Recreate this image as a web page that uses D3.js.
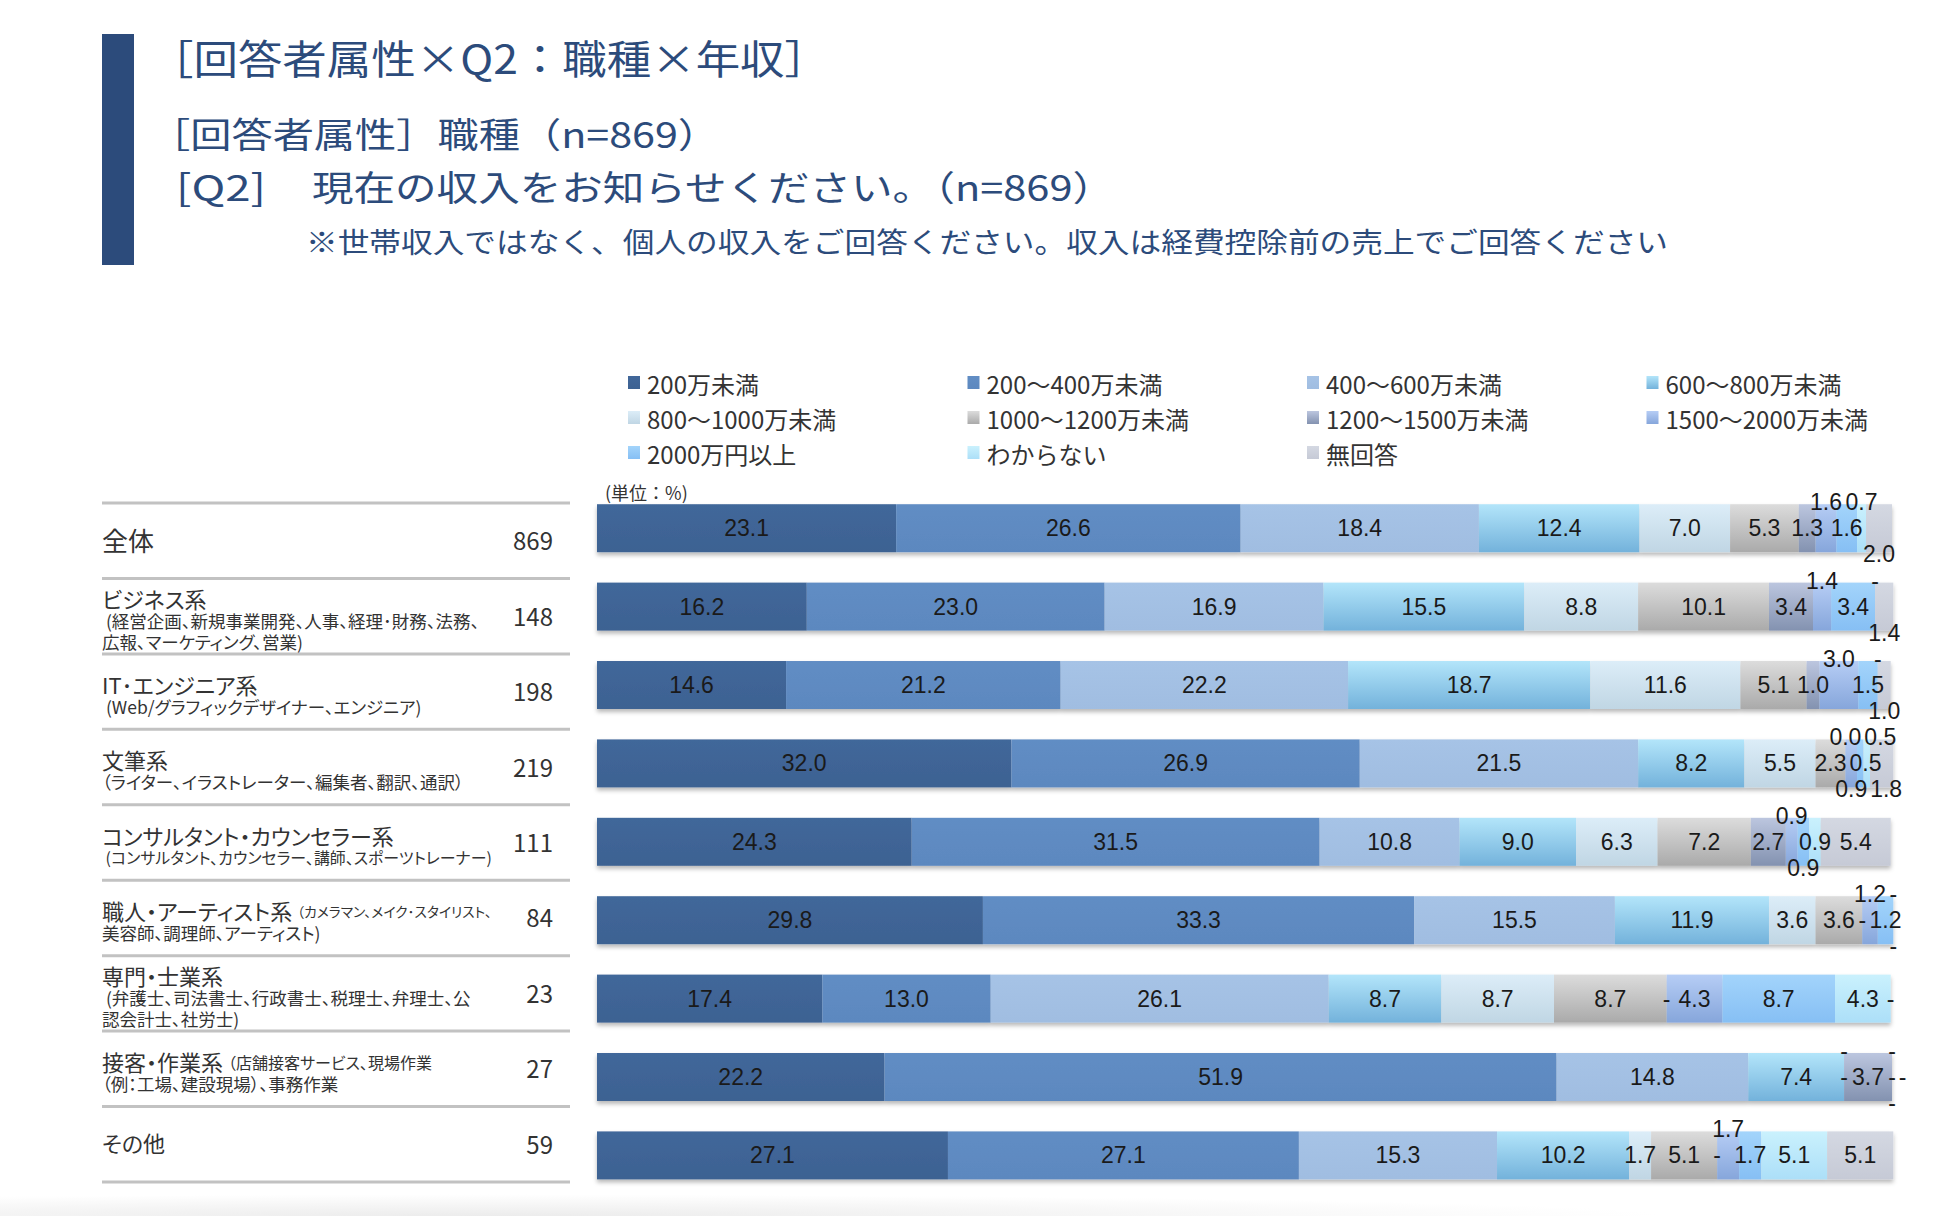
<!DOCTYPE html>
<html lang="ja">
<head>
<meta charset="utf-8">
<script src="https://cdn.jsdelivr.net/npm/d3@7"></script>
<style>
  html, body { margin: 0; padding: 0; background: #fff; }
  svg { display: block; font-family: "Noto Sans CJK JP", "Noto Sans", sans-serif; }
  .palt { font-feature-settings: "palt"; }
</style>
</head>
<body>
<svg id="chart" width="1958" height="1216"></svg>
<script>
// ---- data (percent, null = "-") ----
const seriesNames = [
  "200万未満", "200～400万未満", "400～600万未満", "600～800万未満",
  "800～1000万未満", "1000～1200万未満", "1200～1500万未満", "1500～2000万未満",
  "2000万円以上", "わからない", "無回答"
];
const categories = [
  "全体", "ビジネス系", "IT･エンジニア系", "文筆系", "コンサルタント・カウンセラー系",
  "職人・アーティスト系", "専門・士業系", "接客・作業系", "その他"
];
const inlineNotes = ["", "", "", "", "", "（カメラマン、メイク･スタイリスト、", "", "（店舗接客サービス、現場作業", ""];
const notes = [
  [],
  ["\u00a0(経営企画、新規事業開発、人事、経理･財務、法務、", "広報、マーケティング、営業)"],
  ["\u00a0(Web/グラフィックデザイナー、エンジニア)"],
  ["（ライター、イラストレーター、編集者、翻訳、通訳）"],
  ["\u00a0(コンサルタント、カウンセラー、講師、スポーツトレーナー)"],
  ["美容師、調理師、アーティスト)"],
  ["\u00a0(弁護士、司法書士、行政書士、税理士、弁理士、公", "認会計士、社労士)"],
  ["（例：工場、建設現場）、事務作業"],
  []
];
const sampleSizes = [869, 148, 198, 219, 111, 84, 23, 27, 59];

const vAll        = [23.1, 26.6, 18.4, 12.4, 7.0, 5.3, 1.3, 1.6, 1.6, 0.7, 2.0];
const vBusiness   = [16.2, 23.0, 16.9, 15.5, 8.8, 10.1, 3.4, 1.4, 3.4, null, 1.4];
const vIT         = [14.6, 21.2, 22.2, 18.7, 11.6, 5.1, 1.0, 3.0, 1.5, null, 1.0];
const vWriting    = [32.0, 26.9, 21.5, 8.2, 5.5, 2.3, 0.0, 0.9, 0.5, 0.5, 1.8];
const vConsultant = [24.3, 31.5, 10.8, 9.0, 6.3, 7.2, 2.7, 0.9, 0.9, 0.9, 5.4];
const vArtisan    = [29.8, 33.3, 15.5, 11.9, 3.6, 3.6, null, 1.2, 1.2, null, null];
const vLicensed   = [17.4, 13.0, 26.1, 8.7, 8.7, 8.7, null, 4.3, 8.7, 4.3, null];
const vService    = [22.2, 51.9, 14.8, 7.4, null, null, 3.7, null, null, null, null];
const vOther      = [27.1, 27.1, 15.3, 10.2, 1.7, 5.1, null, 1.7, 1.7, 5.1, 5.1];
const shares = [vAll, vBusiness, vIT, vWriting, vConsultant, vArtisan, vLicensed, vService, vOther];

// ---- styling ----
const colorTop = ["#41679a", "#618dc4", "#a6c3e6", "#b3e5fa", "#dcedf8", "#dcdcdc", "#bcc6df", "#b6cdf5", "#a3d4fb", "#caf1fd", "#d4d8e2"];
const colorBot = ["#3d6292", "#5c88bf", "#a0bde1", "#73b2db", "#c0d6e4", "#aaaaaa", "#8392b0", "#86a6db", "#86bff4", "#acdff8", "#c6cad6"];
const navy = "#2c4b7b";

const svg = d3.select("#chart");
const defs = svg.append("defs");

seriesNames.forEach((s, i) => {
  const g = defs.append("linearGradient").attr("id", "grad" + i)
    .attr("x1", 0).attr("y1", 0).attr("x2", 0).attr("y2", 1);
  g.append("stop").attr("offset", "0%").attr("stop-color", colorTop[i]);
  g.append("stop").attr("offset", "100%").attr("stop-color", colorBot[i]);
});
defs.append("filter").attr("id", "shadow")
  .attr("x", "-2%").attr("y", "-20%").attr("width", "104%").attr("height", "150%")
  .append("feDropShadow").attr("dx", 0).attr("dy", 3).attr("stdDeviation", 2)
  .attr("flood-color", "#000").attr("flood-opacity", 0.28);
const fade = defs.append("radialGradient").attr("id", "fade")
  .attr("cx", 0.25).attr("cy", 1).attr("r", 0.6);
fade.append("stop").attr("offset", "0%").attr("stop-color", "#ececec");
fade.append("stop").attr("offset", "100%").attr("stop-color", "#ffffff");

svg.append("rect").attr("x", 0).attr("y", 1180).attr("width", 1958).attr("height", 36)
  .attr("fill", "url(#fade)");

// ---- header ----
svg.append("rect").attr("x", 102).attr("y", 34).attr("width", 32).attr("height", 231).attr("fill", navy);

function headText(str, x, y, size, len) {
  svg.append("text").attr("x", x).attr("y", y).attr("dominant-baseline", "central")
    .attr("font-size", size).attr("fill", navy)
    .attr("textLength", len).attr("lengthAdjust", "spacingAndGlyphs")
    .text(str);
}
headText("［回答者属性×Q2：職種×年収］", 149, 57, 40, 680);
headText("［回答者属性］職種（n=869）", 149, 132, 35, 570);
headText("[Q2]", 176, 185, 36, 90);
headText("現在の収入をお知らせください。（n=869）", 312, 185, 35, 802);
headText("※世帯収入ではなく、個人の収入をご回答ください。収入は経費控除前の売上でご回答ください", 306, 241, 28, 1362);

// ---- legend ----
const legend = svg.append("g").selectAll("g").data(seriesNames).join("g")
  .attr("transform", (d, i) => `translate(${628 + (i % 4) * 339.5},${383 + Math.floor(i / 4) * 35})`);
legend.append("rect").attr("x", 0).attr("y", -7).attr("width", 12).attr("height", 13)
  .attr("fill", (d, i) => `url(#grad${i})`);
legend.append("text").attr("x", 19).attr("y", 0).attr("dominant-baseline", "central")
  .attr("font-size", 24).attr("fill", "#333").text(d => d);

svg.append("text").attr("x", 605).attr("y", 492).attr("dominant-baseline", "central")
  .attr("font-size", 18).attr("fill", "#333").text("(単位：%)");

// ---- scales ----
const x = d3.scaleLinear().domain([0, 100]).range([597, 1892]);
const y = d3.scaleBand().domain(categories).range([489, 1194.6]).paddingInner(0.388).paddingOuter(0.194);
const yt = d3.scaleBand().domain(categories).range([503, 1182]);

// ---- left table ----
const table = svg.append("g");
table.selectAll("line").data(d3.range(categories.length + 1)).join("line")
  .attr("x1", 102).attr("x2", 570)
  .attr("y1", i => 503 + i * yt.step()).attr("y2", i => 503 + i * yt.step())
  .attr("stroke", "#c2c2c2").attr("stroke-width", 3);

const noteRight = 492;   // notes never run into the n column
function fitNote(tspan, x0, size) {
  const w = tspan.node().getComputedTextLength();
  if (x0 + w > noteRight) tspan.attr("font-size", size * (noteRight - x0) / w);
}

categories.forEach((name, i) => {
  const c = yt(name) + yt.step() / 2;
  const lines = notes[i];
  const first = lines.length === 0 ? c - 2 : c + 3 - (22 + 21 * (lines.length - 1)) / 2;
  const label = table.append("text").attr("class", "palt")
    .attr("dominant-baseline", "central").attr("fill", "#333");
  const main = label.append("tspan").attr("x", 102).attr("y", first)
    .attr("font-size", i === 0 ? 26 : 22).text(name);
  if (inlineNotes[i]) {
    const x0 = 102 + main.node().getComputedTextLength() + 5;
    const inl = label.append("tspan").attr("x", x0).attr("y", first + 1)
      .attr("font-size", 16).text(inlineNotes[i]);
    fitNote(inl, x0, 16);
  }
  lines.forEach((ln, j) => {
    const sub = label.append("tspan").attr("x", 102).attr("y", first + 22 + 21 * j)
      .attr("font-size", 17.5).text(ln);
    fitNote(sub, 102, 17.5);
  });
  table.append("text").attr("x", 553).attr("y", c - 1).attr("dominant-baseline", "central")
    .attr("text-anchor", "end").attr("font-size", 24).attr("fill", "#333")
    .text(sampleSizes[i]);
});

// ---- stacked bars ----
const rows = categories.map((name, i) => ({ name, values: shares[i] }));
const stack = d3.stack().keys(d3.range(seriesNames.length))
  .value((d, k) => d.values[k] ?? 0)(rows);

const bars = svg.append("g").attr("filter", "url(#shadow)");
bars.selectAll("g").data(stack).join("g")
  .attr("fill", (d, i) => `url(#grad${i})`)
  .selectAll("rect").data(d => d).join("rect")
  .attr("x", d => x(d[0]))
  .attr("width", d => x(d[1]) - x(d[0]))
  .attr("y", d => y(d.data.name))
  .attr("height", y.bandwidth());

// ---- value labels: middle, else above, else below; push right if all lanes are taken ----
const labels = svg.append("g").attr("font-family", "'Liberation Sans', Arial, sans-serif")
  .attr("font-size", 23).attr("fill", "#1a1a1a").attr("text-anchor", "middle");
const laneOffset = { m: 0, t: -26, b: 26 };
rows.forEach((row, ri) => {
  const cy = y(row.name) + y.bandwidth() / 2;
  const right = { m: -Infinity, t: -Infinity, b: -Infinity };
  stack.forEach((layer, si) => {
    const seg = layer[ri];
    const v = row.values[si];
    const cx = (x(seg[0]) + x(seg[1])) / 2;
    const t = labels.append("text").attr("x", cx).attr("dominant-baseline", "central")
      .text(v == null ? "-" : v.toFixed(1));
    const w = t.node().getComputedTextLength();
    let best = null;
    for (const k of ["m", "t", "b"]) {
      const shift = Math.max(0, right[k] + 3 - (cx - w / 2));
      if (!best || shift < best.shift) best = { k, shift };
      if (shift === 0) break;
    }
    right[best.k] = cx + best.shift + w / 2;
    t.attr("x", cx + best.shift).attr("y", cy + laneOffset[best.k]);
  });
});
</script>
</body>
</html>
